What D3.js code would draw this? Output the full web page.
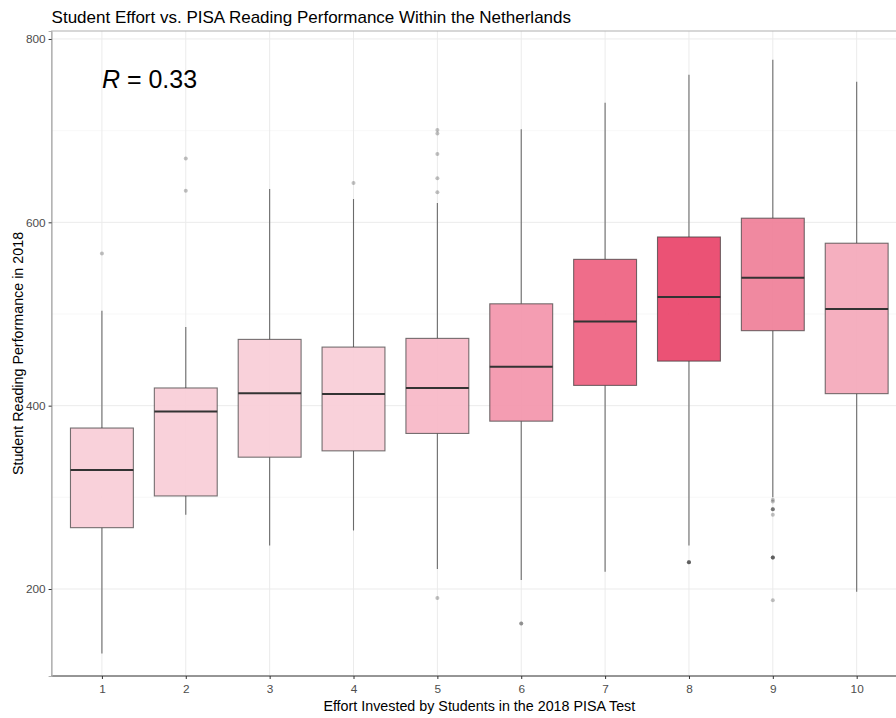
<!DOCTYPE html>
<html>
<head>
<meta charset="utf-8">
<script src="https://cdn.jsdelivr.net/npm/d3@7"></script>
<style>
  html, body { margin: 0; padding: 0; background: #fff; overflow: hidden; }
  svg { display: block; font-family: "Liberation Sans", Arial, sans-serif; }
</style>
</head>
<body>
<svg id="chart" width="896" height="718"></svg>
<script>
// ---- data ----
const categories = ["1","2","3","4","5","6","7","8","9","10"];
const q1Values      = [266.9, 301.5, 343.8, 350.7, 369.7, 383.1, 422.1, 448.6, 481.8, 413.1];
const medianValues  = [329.8, 393.7, 413.6, 412.6, 419.4, 442.4, 491.9, 518.5, 539.6, 505.5];
const q3Values      = [375.6, 419.3, 472.3, 463.9, 473.4, 511.1, 559.6, 584.0, 604.5, 577.2];
const whiskerLow    = [129.7, 281.0, 247.4, 263.8, 221.9, 209.8, 218.7, 247.4, 300.2, 196.9];
const whiskerHigh   = [503.6, 485.8, 636.4, 625.4, 621.0, 701.5, 730.4, 760.9, 777.3, 753.4];
const outlierValues = [
  [566.0],
  [669.6, 634.5],
  [],
  [642.9],
  [700.7, 697.0, 674.6, 648.0, 632.8, 190.2],
  [162.3, 162.3],
  [],
  [229.2, 229.2, 229.2, 229.2],
  [297.4, 295.5, 286.9, 286.9, 286.9, 281.0, 234.4, 234.4, 234.4, 234.4, 187.7],
  []
];
const yTicks = [200, 400, 600, 800];
const yMinorTicks = [300, 500, 700];
const correlationLabel = "0.33";

// ---- style constants ----
const fillPalette = ["#F9CDD7","#F9CDD7","#F9CDD7","#F9CDD7","#F7B8C7","#F396AC","#EE6281","#E9456B","#EF8099","#F4A9BA"];
const panel = { left: 51.6, right: 907, top: 31, bottom: 676 };

const svg = d3.select("#chart");

const y = d3.scaleLinear().domain([105.1, 808.7]).range([panel.bottom, panel.top]);
const x = d3.scalePoint().domain(categories)
  .range([panel.left, panel.right]).padding(0.6);
const step = x.step();
const boxW = step * 0.75;

svg.append("rect").attr("x", panel.left).attr("y", panel.top)
  .attr("width", panel.right - panel.left).attr("height", panel.bottom - panel.top)
  .attr("fill", "#fff");

// minor gridlines
svg.append("g").selectAll("line").data(yMinorTicks).join("line")
  .attr("x1", panel.left).attr("x2", panel.right)
  .attr("y1", d => y(d)).attr("y2", d => y(d))
  .attr("stroke", "#f4f4f4").attr("stroke-width", 0.6);
// major gridlines
svg.append("g").selectAll("line").data(yTicks).join("line")
  .attr("x1", panel.left).attr("x2", panel.right)
  .attr("y1", d => y(d)).attr("y2", d => y(d))
  .attr("stroke", "#ebebeb").attr("stroke-width", 1);
svg.append("g").selectAll("line").data(categories).join("line")
  .attr("x1", d => x(d)).attr("x2", d => x(d))
  .attr("y1", panel.top).attr("y2", panel.bottom)
  .attr("stroke", "#ebebeb").attr("stroke-width", 1);

const boxes = categories.map((c, i) => ({
  c, i, q1: q1Values[i], med: medianValues[i], q3: q3Values[i],
  lo: whiskerLow[i], hi: whiskerHigh[i], out: outlierValues[i]
}));

const g = svg.append("g");
boxes.forEach(b => {
  const cx = x(b.c);
  g.selectAll(null).data(b.out).join("circle")
    .attr("cx", cx).attr("cy", d => y(d)).attr("r", 2)
    .attr("fill", "#333").attr("fill-opacity", 0.3);
  g.append("line").attr("x1", cx).attr("x2", cx)
    .attr("y1", y(b.hi)).attr("y2", y(b.q3))
    .attr("stroke", "#555").attr("stroke-width", 1.1).attr("stroke-opacity", 0.85);
  g.append("line").attr("x1", cx).attr("x2", cx)
    .attr("y1", y(b.q1)).attr("y2", y(b.lo))
    .attr("stroke", "#555").attr("stroke-width", 1.1).attr("stroke-opacity", 0.85);
  g.append("rect")
    .attr("x", cx - boxW / 2).attr("width", boxW)
    .attr("y", y(b.q3)).attr("height", y(b.q1) - y(b.q3))
    .attr("fill", fillPalette[b.i]).attr("fill-opacity", 0.93)
    .attr("stroke", "#3a3a3a").attr("stroke-opacity", 0.7).attr("stroke-width", 1.1);
  g.append("line")
    .attr("x1", cx - boxW / 2).attr("x2", cx + boxW / 2)
    .attr("y1", y(b.med)).attr("y2", y(b.med))
    .attr("stroke", "#333").attr("stroke-width", 2);
});

// panel border
svg.append("rect").attr("x", panel.left).attr("y", panel.top)
  .attr("width", panel.right - panel.left).attr("height", panel.bottom - panel.top)
  .attr("fill", "none").attr("stroke", "#b0b0b0").attr("stroke-width", 1);
svg.append("line").attr("x1", panel.left).attr("x2", panel.right)
  .attr("y1", panel.bottom).attr("y2", panel.bottom).attr("stroke", "#555").attr("stroke-width", 1);

// y axis
const yAxis = d3.axisLeft(y).tickValues(yTicks).tickSize(3).tickPadding(3);
const yg = svg.append("g").attr("transform", `translate(${panel.left},0)`).call(yAxis);
yg.select(".domain").attr("stroke", "#b0b0b0");
yg.selectAll(".tick line").attr("stroke", "#333");
yg.selectAll(".tick text").attr("fill", "#4d4d4d").style("font-size", "11.8px")
  .style("font-family", "'Liberation Sans', Arial, sans-serif");

// x axis
const xAxis = d3.axisBottom(x).tickSize(3).tickPadding(6);
const xg = svg.append("g").attr("transform", `translate(0,${panel.bottom})`).call(xAxis);
xg.select(".domain").remove();
xg.selectAll(".tick line").attr("stroke", "#333");
xg.selectAll(".tick text").attr("fill", "#4d4d4d").style("font-size", "11.8px")
  .style("font-family", "'Liberation Sans', Arial, sans-serif");

// labels
svg.append("text").attr("x", (panel.left + panel.right) / 2).attr("y", 711)
  .attr("text-anchor", "middle").attr("fill", "#000").style("font-size", "14.3px")
  .text("Effort Invested by Students in the 2018 PISA Test");
svg.append("text")
  .attr("transform", `translate(23,${(panel.top + panel.bottom) / 2}) rotate(-90)`)
  .attr("text-anchor", "middle").attr("fill", "#000").style("font-size", "14.3px")
  .text("Student Reading Performance in 2018");
svg.append("text").attr("x", panel.left).attr("y", 23)
  .attr("fill", "#000").style("font-size", "17px")
  .text("Student Effort vs. PISA Reading Performance Within the Netherlands");

// R annotation
const rt = svg.append("text").attr("x", x(categories[0])).attr("y", y(747))
  .attr("fill", "#000").style("font-size", "25px");
rt.append("tspan").style("font-style", "italic").text("R");
rt.append("tspan").text(" = " + correlationLabel);
</script>
</body>
</html>
